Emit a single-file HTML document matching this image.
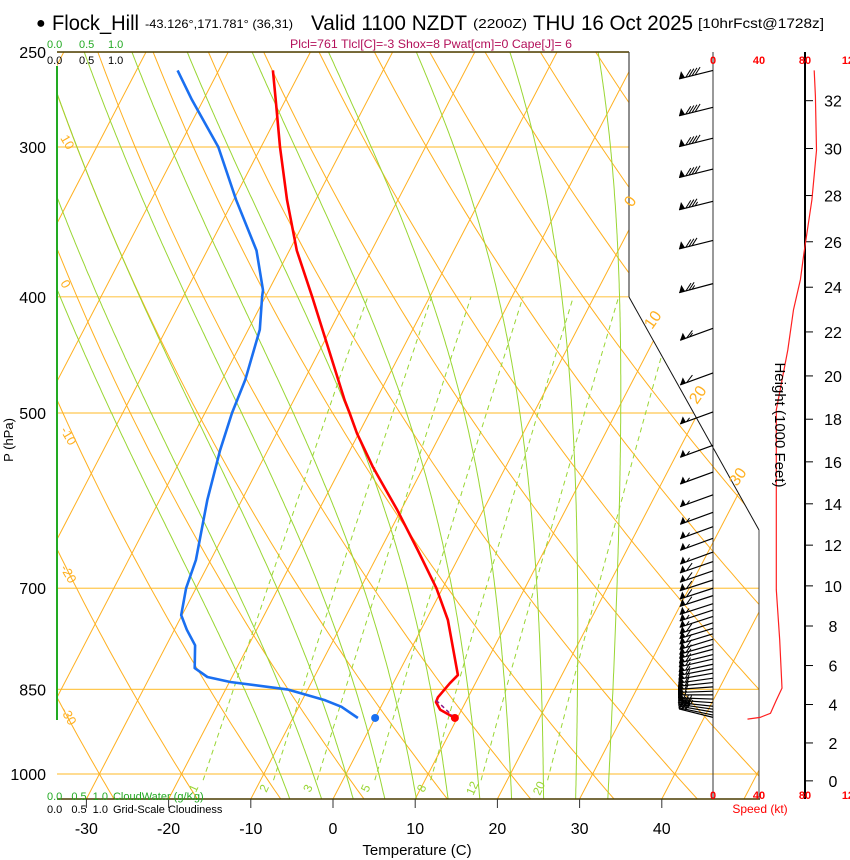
<!DOCTYPE html>
<html><head><meta charset="utf-8"><style>
html,body{margin:0;padding:0;background:#fff;}
svg{display:block;font-family:"Liberation Sans",sans-serif;}
</style></head><body>
<svg id="chart" width="850" height="860" viewBox="0 0 850 860" xmlns="http://www.w3.org/2000/svg">
<defs><clipPath id="plotClip"><polygon points="57,52 629,52 629,297 759,530 759,799 57,799"/></clipPath></defs>
<g id="bg" clip-path="url(#plotClip)"></g>
<g id="frame"></g>
<g id="series"></g>
<g id="wind"></g>
<g id="labels">
  <text x="36" y="28" font-size="16">●</text>
  <text x="52" y="30" font-size="21" textLength="87" lengthAdjust="spacingAndGlyphs">Flock_Hill</text>
  <text x="145" y="28" font-size="12" textLength="148" lengthAdjust="spacingAndGlyphs">-43.126°,171.781° (36,31)</text>
  <text x="311" y="30" font-size="21" textLength="156" lengthAdjust="spacingAndGlyphs">Valid 1100 NZDT</text>
  <text x="473" y="28" font-size="13" textLength="54" lengthAdjust="spacingAndGlyphs">(2200Z)</text>
  <text x="533" y="30" font-size="21" textLength="160" lengthAdjust="spacingAndGlyphs">THU 16 Oct 2025</text>
  <text x="698" y="28" font-size="14" textLength="126" lengthAdjust="spacingAndGlyphs">[10hrFcst@1728z]</text>
  <text x="290" y="48" font-size="12" fill="#b3105a" textLength="282" lengthAdjust="spacingAndGlyphs">Plcl=761 Tlcl[C]=-3 Shox=8 Pwat[cm]=0 Cape[J]= 6</text>
  <text x="47" y="48" font-size="11" fill="#22aa22">0.0</text>
  <text x="79" y="48" font-size="11" fill="#22aa22">0.5</text>
  <text x="108" y="48" font-size="11" fill="#22aa22">1.0</text>
  <text x="47" y="64" font-size="11">0.0</text>
  <text x="79" y="64" font-size="11">0.5</text>
  <text x="108" y="64" font-size="11">1.0</text>
  <text x="47" y="800" font-size="11" fill="#22aa22">0.0 <tspan dx="6">0.5</tspan><tspan dx="6">1.0</tspan><tspan dx="5">CloudWater (g/Kg)</tspan></text>
  <text x="47" y="813" font-size="11">0.0 <tspan dx="6">0.5</tspan><tspan dx="6">1.0</tspan><tspan dx="5">Grid-Scale Cloudiness</tspan></text>
  <text x="417" y="855" font-size="15" text-anchor="middle">Temperature (C)</text>
  <text transform="translate(13,440) rotate(-90)" font-size="13" text-anchor="middle">P (hPa)</text>
  <text transform="translate(775,425) rotate(90)" font-size="15" text-anchor="middle">Height (1000 Feet)</text>
  <text x="760" y="813" font-size="12" fill="#ff0000" text-anchor="middle">Speed (kt)</text>
</g>
</svg>
<script>
// ---- data ----
const pressureTicks = [250,300,400,500,700,850,1000];
const tempTicks = [-30,-20,-10,0,10,20,30,40];
const isoLabelsLeft = [10,0,-10,-20,-30];
const isoLabelsRight = [0,10,20,30];
const mixRatios = [1,2,3,5,8,12,20];
const moistThetaW = [-8,-4,0,4,8,12,16,20,24,28,32];
const tempP = [259,274,300,332,366,400,488,500,520,555,602,650,700,744,803,827,840,863,871,884,898];
const tempT = [-53.4,-51.2,-47.7,-43.5,-39.1,-34.3,-23.8,-22.4,-20.2,-16.1,-10.5,-5.5,-0.75,2.66,6.05,7.36,6.9,6.33,6.4,7.4,9.7];
const dewP = [259,274,300,332,366,395,400,426,469,500,537,591,663,700,737,758,781,816,830,838,850,868,879,898];
const dewT = [-65.0,-61.4,-55.2,-49.7,-44.0,-40.7,-40.4,-38.6,-37.2,-36.7,-35.8,-34.2,-31.8,-31.2,-30.1,-28.5,-26.5,-25.1,-23.0,-19.9,-12.5,-7.2,-4.8,-2.1];
const parcelP = [868,898];
const parcelT = [6.3,9.7];
const sfcP = 898;
const sfcT = 9.7;
const sfcTd = 0.0;
const spdP = [900,897,890,868,848,773,702,654,606,569,497,443,410,387,368,332,302,272,259];
const spdV = [30,41,50,55,60,58,55,55,55,55,55,65,70,76,79,86,90,89,88];
const speedTicks = [0,40,80,120];
const heightTicks = [0,2,4,6,8,10,12,14,16,18,20,22,24,26,28,30,32];
const barbP = [259,278,295,313,333,359,390,425,463,499,532,560,585,605,622,636,653,665,677,689,700,710,721,730,739,748,756,764,772,780,787,795,802,810,817,824,832,839,846,853,859,866,872,878,883,888,893,897];
const barbSpd = [88,89,90,89,86,82,77,66,58,55,55,55,55,55,55,56,57,58,58,58,58,58,57,57,57,58,58,58,58,58,58,59,59,59,60,60,60,60,60,58,55,52,48,43,38,35,32,30];
const barbDir = [256,256,256,256,256,256,255,250,250,250,250,250,250,250,250,250,250,251,251,252,252,252,252,252,252,252,253,253,253,254,255,256,257,258,259,260,262,264,266,268,270,272,274,276,278,280,282,284];

// ---- axes ----
const NS='http://www.w3.org/2000/svg';
const SKEW=0.52;
function Y(p){return 774-520.8*Math.log(1000/p);}
function X(T,p){return 333+8.22*T+SKEW*(799-Y(p));}
function SX(v){return 713+1.15*v;}
function el(tag,attrs,parent){const e=document.createElementNS(NS,tag);for(const k in attrs)e.setAttribute(k,attrs[k]);parent.appendChild(e);return e;}
function poly(pts){return pts.map(q=>q[0].toFixed(1)+','+q[1].toFixed(1)).join(' ');}
const bg=document.getElementById('bg'),frame=document.getElementById('frame'),series=document.getElementById('series'),wind=document.getElementById('wind'),labels=document.getElementById('labels');
const ORANGE='#ffb020', GREEN='#99d633';

pressureTicks.forEach(p=>{
  const l=el('line',{x1:57,x2:760,y1:Y(p),y2:Y(p),stroke:'#ffc850','stroke-width':1.2},bg);
  
  
});
for(let T=-130;T<=50;T+=10){
  const l=el('line',{x1:X(T,1050),y1:Y(1050),x2:X(T,240),y2:Y(240),stroke:ORANGE,'stroke-width':1},bg);
  
  
}
for(let th=-40;th<=200;th+=10){
  const pts=[];
  for(let p=1050;p>=240;p-=10){const T=(th+273.15)*Math.pow(p/1000,0.2857)-273.15;pts.push([X(T,p),Y(p)]);}
  const l=el('polyline',{points:poly(pts),fill:'none',stroke:ORANGE,'stroke-width':1},bg);
  
  
}
function dTdlnp(T,p){const Tc=T-273.15;const es=6.112*Math.exp(17.67*Tc/(Tc+243.5));const rs=0.622*es/(p-es);return (287*T+2.5e6*rs)/(1004+2.5e6*2.5e6*rs*0.622/(287*T*T));}
moistThetaW.forEach(tw=>{
  const up=[],dn=[];
  let T=tw+273.15,lp=Math.log(1000);const h=0.005;
  while(Math.exp(lp)>240){up.push([X(T-273.15,Math.exp(lp)),Y(Math.exp(lp))]);T-=h*dTdlnp(T,Math.exp(lp));lp-=h;}
  T=tw+273.15;lp=Math.log(1000);
  while(Math.exp(lp)<1052){T+=h*dTdlnp(T,Math.exp(lp));lp+=h;dn.push([X(T-273.15,Math.exp(lp)),Y(Math.exp(lp))]);}
  const pts=dn.reverse().concat(up);
  const l=el('polyline',{points:poly(pts),fill:'none',stroke:GREEN,'stroke-width':1},bg);
  
  
});
function tdOf(w,p){const e=w*p/(622+w);const a=Math.log(e/6.112);return 243.5*a/(17.67-a);}
mixRatios.forEach(w=>{
  const pts=[];for(let p=1012;p>=400;p-=6)pts.push([X(tdOf(w,p),p),Y(p)]);
  const l=el('polyline',{points:poly(pts),fill:'none',stroke:GREEN,'stroke-width':1,'stroke-dasharray':'5,4'},bg);
  
  
  const x=X(tdOf(w,1035),1035)-2,y=Y(1035)-2;
  const t=el('text',{x:0,y:0,transform:`translate(${x},${y}) rotate(-65)`,'font-size':12,fill:GREEN,'text-anchor':'middle'},labels);
  t.textContent=w;
  
  
});

[[57,52,629,52,'#4a3c00',1.5],[57,799,760,799,'#4a3c00',1.5],[629,52,629,297,'#444',1.2],[629,297,759,530,'#111',1],[759,530,759,799,'#444',1],[713,52,713,799,'#333',1],[805,52,805,799,'#000',2]].forEach(a=>{
  const l=el('line',{x1:a[0],y1:a[1],x2:a[2],y2:a[3],stroke:a[4],'stroke-width':a[5]},frame);
  
  
});
const cw=el('line',{x1:57,y1:66,x2:57,y2:720,stroke:'#22aa22','stroke-width':2},frame);


pressureTicks.forEach(p=>{
  const t=el('text',{x:46,y:Y(p)+6,'font-size':16,'text-anchor':'end'},labels);t.textContent=p;
  
  
});
tempTicks.forEach(T=>{
  const x=333+8.22*T;
  const l=el('line',{x1:x,x2:x,y1:799,y2:808,stroke:'#333','stroke-width':1},frame);
  
  
  const t=el('text',{x:x,y:834,'font-size':16,'text-anchor':'middle'},labels);t.textContent=T;
  
  
});
const leftLabY={10:138,0:283,'-10':430,'-20':568,'-30':710};
isoLabelsLeft.forEach(T=>{
  const y=leftLabY[T];
  const t=el('text',{x:0,y:0,transform:`translate(60,${y}) rotate(60)`,'font-size':13,fill:ORANGE},labels);t.textContent=T;
  
  
});
const rightLab={0:[632,208],10:[652,330],20:[697,405],30:[737,487]};
isoLabelsRight.forEach(T=>{
  const q=rightLab[T];
  const t=el('text',{x:0,y:0,transform:`translate(${q[0]},${q[1]}) rotate(-55)`,'font-size':16,fill:ORANGE},labels);t.textContent=T;
  
  
});

function line(P,T){return poly(P.map((p,i)=>[X(T[i],p),Y(p)]));}
const tl=el('polyline',{points:line(tempP,tempT),fill:'none',stroke:'#ff0000','stroke-width':2.6,'stroke-linejoin':'round'},series);


const dl=el('polyline',{points:line(dewP,dewT),fill:'none',stroke:'#1a6ff0','stroke-width':2.6,'stroke-linejoin':'round'},series);


const pl=el('polyline',{points:line(parcelP,parcelT),fill:'none',stroke:'#8b1a8b','stroke-width':1.5,'stroke-dasharray':'4,3'},series);


const sd=el('circle',{cx:X(sfcT,sfcP),cy:Y(sfcP),r:4,fill:'#ff0000'},series);


const sdd=el('circle',{cx:X(sfcTd,sfcP),cy:Y(sfcP),r:4,fill:'#1a6ff0'},series);



const sp=el('polyline',{points:poly(spdP.map((p,i)=>[SX(spdV[i]),Y(p)])),fill:'none',stroke:'#ff2020','stroke-width':1.2},wind);


speedTicks.forEach(v=>{
  [64,799].forEach(y=>{
    const t=el('text',{x:SX(v),y:y,'font-size':11,fill:'#ff0000','text-anchor':'middle','font-weight':'bold'},labels);t.textContent=v;
    
    
  });
});
function pOfH(kft){return 1013.25*Math.pow(1-2.25577e-5*kft*304.8,5.25588);}
heightTicks.forEach(h=>{
  const y=Y(pOfH(h));
  const l=el('line',{x1:805,x2:813,y1:y,y2:y,stroke:'#000','stroke-width':1},frame);
  
  
  const t=el('text',{x:833,y:y+6,'font-size':16,'text-anchor':'middle'},labels);t.textContent=h;
  
  
});
barbP.forEach((p,i)=>{
  const g=el('g',{},wind);
  
  
  const x0=713,y0=Y(p),L=35;
  const a=(270-barbDir[i])*Math.PI/180;
  const ux=-Math.cos(a),uy=Math.sin(a);
  const x1=x0+ux*L,y1=y0+uy*L;
  el('line',{x1:x0,y1:y0,x2:x1,y2:y1,stroke:'#000','stroke-width':1.2},g);
  const fx=-uy,fy=ux;
  const gx=fx<0?-fx:fx, gy=fx<0?-fy:fy;
  let s=Math.round(barbSpd[i]/5)*5,pos=0;
  const step=3.2;
  while(s>=50){const ax=x1-ux*pos,ay=y1-uy*pos,bx=x1-ux*(pos+6),by=y1-uy*(pos+6);
    el('polygon',{points:poly([[ax,ay],[bx,by],[ax+gx*8,ay-Math.abs(gy)*8]]),fill:'#000'},g);pos+=7;s-=50;}
  while(s>=10){const ax=x1-ux*pos,ay=y1-uy*pos;el('line',{x1:ax,y1:ay,x2:ax+gx*8+3,y2:ay-Math.abs(gy)*8,stroke:'#000','stroke-width':1},g);pos+=step;s-=10;}
  if(s>=5){const ax=x1-ux*pos,ay=y1-uy*pos;el('line',{x1:ax,y1:ay,x2:ax+gx*4+1.5,y2:ay-Math.abs(gy)*4,stroke:'#000','stroke-width':1},g);}
});
</script>
</body></html>
